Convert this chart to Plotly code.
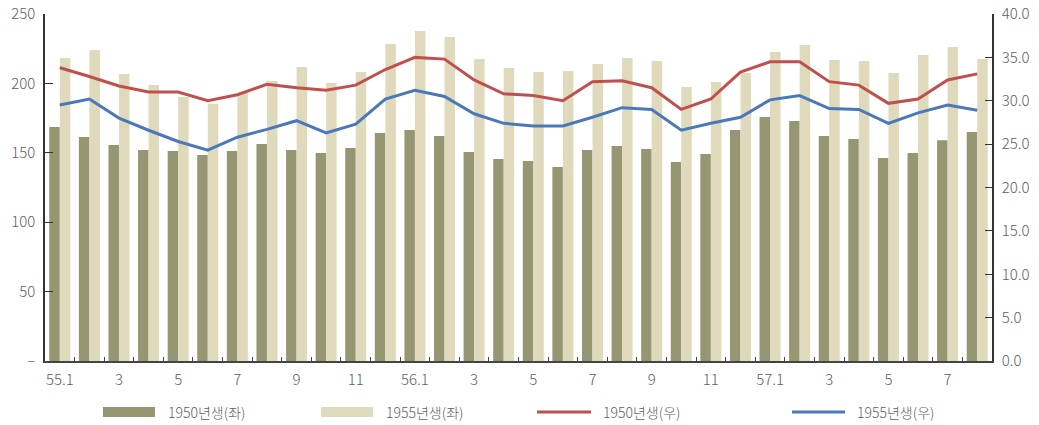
import plotly.graph_objects as go

# Monthly categories 1955.1 – 1957.8
months = [f"{y}.{m}" for y in (55, 56) for m in range(1, 13)] + [f"57.{m}" for m in range(1, 9)]
tick_text = [(m if m.endswith(".1") else m.split(".")[1]) if int(m.split(".")[1]) % 2 == 1 else "" for m in months]

# Left axis (bars)
born1950_left = [168.6, 161.4, 155.6, 152.0, 151.3, 148.4, 151.3, 156.3, 152.0, 149.9, 153.5, 164.3,
                 166.4, 162.1, 150.6, 145.5, 144.1, 139.8, 152.0, 154.9, 152.7, 143.4, 149.1, 166.4,
                 175.8, 172.9, 162.1, 160.0, 146.3, 149.9, 159.1, 165.0]
born1955_left = [218.3, 224.1, 206.8, 198.8, 190.2, 185.4, 193.0, 201.7, 211.8, 200.3, 208.2, 228.4,
                 237.7, 233.4, 217.6, 211.1, 208.2, 208.9, 214.0, 218.3, 216.1, 197.4, 201.0, 207.5,
                 222.6, 227.7, 216.9, 216.1, 207.5, 220.5, 226.2, 217.6]

# Right axis (lines)
born1950_right = [33.8, 32.8, 31.7, 31.0, 31.0, 30.0, 30.7, 31.9, 31.5, 31.2, 31.8, 33.6,
                  35.0, 34.8, 32.4, 30.8, 30.6, 30.0, 32.2, 32.3, 31.5, 29.0, 30.2, 33.3,
                  34.5, 34.5, 32.2, 31.8, 29.7, 30.2, 32.4, 33.1]
born1955_right = [29.5, 30.2, 28.0, 26.6, 25.3, 24.3, 25.8, 26.7, 27.7, 26.3, 27.3, 30.2,
                  31.2, 30.5, 28.5, 27.4, 27.1, 27.1, 28.1, 29.2, 29.0, 26.6, 27.4, 28.1,
                  30.1, 30.6, 29.1, 29.0, 27.4, 28.6, 29.5, 28.9]

left_ticks = [0, 50, 100, 150, 200, 250]
left_tick_text = ["–", "50", "100", "150", "200", "250"]
right_ticks = [0, 5, 10, 15, 20, 25, 30, 35, 40]

names = ["1950년생(좌)", "1955년생(좌)", "1950년생(우)", "1955년생(우)"]
colors = ["#969672", "#dfdabb", "#c0504d", "#4a78b8"]

FONT = "Noto Sans CJK KR"
TXT = "#606060"

fig = go.Figure()
fig.add_trace(go.Bar(x=months, y=born1950_left, name=names[0], marker_color=colors[0],
                     marker_line_width=0, offsetgroup="a"))
fig.add_trace(go.Bar(x=months, y=born1955_left, name=names[1], marker_color=colors[1],
                     marker_line_width=0, offsetgroup="b"))
fig.add_trace(go.Scatter(x=months, y=born1950_right, name=names[2], mode="lines",
                         line=dict(color=colors[2], width=3), yaxis="y2"))
fig.add_trace(go.Scatter(x=months, y=born1955_right, name=names[3], mode="lines",
                         line=dict(color=colors[3], width=3), yaxis="y2"))

W, H = 1039, 425
L, R, T, B = 45, 47, 14, 64
pw, ph = W - L - R, H - T - B


def px(x):
    return (x - L) / pw


def py(y):
    return (H - B - y) / ph


# Legend row drawn beneath the plot
legend_items = [(103, 155, 166, "bar"), (321, 373, 384, "bar"), (537, 591, 601, "line"), (792, 845, 855, "line")]
shapes = []
annotations = []
for (x0, x1, tx, kind), name, col in zip(legend_items, names, colors):
    if kind == "bar":
        shapes.append(dict(type="rect", xref="paper", yref="paper", x0=px(x0), x1=px(x1),
                           y0=py(417), y1=py(407), fillcolor=col, line_width=0))
    else:
        shapes.append(dict(type="line", xref="paper", yref="paper", x0=px(x0), x1=px(x1),
                           y0=py(412), y1=py(412), line=dict(color=col, width=3)))
    annotations.append(dict(text=name, xref="paper", yref="paper", x=px(tx), y=py(412),
                            xanchor="left", yanchor="middle", showarrow=False,
                            font=dict(family=FONT, size=14, color=TXT, weight=300)))

tick_font = dict(family=FONT, size=15, color=TXT, weight=300)

fig.update_layout(
    width=W, height=H,
    margin=dict(l=L, r=R, t=T, b=B, autoexpand=False),
    paper_bgcolor="white", plot_bgcolor="white",
    barmode="group", bargap=0.29, bargroupgap=0,
    showlegend=False,
    font=dict(family=FONT, size=15, color=TXT),
    xaxis=dict(
        type="category", tickmode="array", tickvals=months, ticktext=tick_text,
        tickson="boundaries", ticks="inside", ticklen=4, tickcolor="#444", tickangle=0,
        ticklabelstandoff=4,
        showline=True, linecolor="#444", linewidth=1.5, showgrid=False, automargin=False,
        tickfont=tick_font,
    ),
    yaxis=dict(
        range=[0, 250], tickmode="array", tickvals=left_ticks, ticktext=left_tick_text,
        ticks="inside", ticklen=8, tickcolor="#333", showline=True, linecolor="#333",
        ticklabelstandoff=5,
        linewidth=1.5, showgrid=False, zeroline=False, automargin=False,
        tickfont=tick_font,
    ),
    yaxis2=dict(
        range=[0, 40], overlaying="y", side="right", tickmode="array", tickvals=right_ticks,
        ticktext=[f"{v:.1f}" for v in right_ticks],
        ticks="inside", ticklen=7, tickcolor="#333", showline=True, linecolor="#333",
        ticklabelstandoff=5,
        linewidth=1.5, showgrid=False, zeroline=False, automargin=False,
        tickfont=tick_font,
    ),
    shapes=shapes,
    annotations=annotations,
)

fig.write_html("out.html")
